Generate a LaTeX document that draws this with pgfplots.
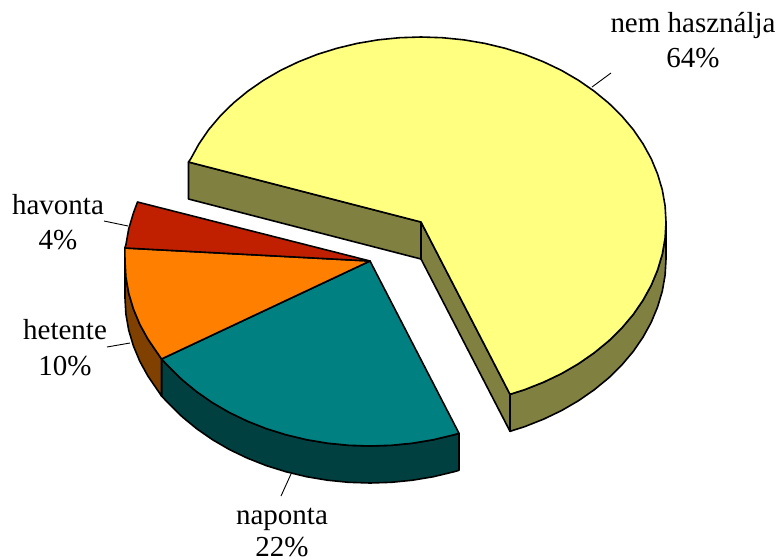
\documentclass[border=0pt]{standalone}
\usepackage{fontspec}
\setmainfont{Liberation Serif}
\usepackage{pgfplots}
\pgfplotsset{compat=1.18}
\definecolor{yellowtop}{HTML}{FFFF80}
\definecolor{yellowside}{HTML}{808040}
\definecolor{tealtop}{HTML}{008080}
\definecolor{tealside}{HTML}{004040}
\definecolor{orangetop}{HTML}{FF8000}
\definecolor{orangeside}{HTML}{804000}
\definecolor{redtop}{HTML}{C02000}
\tikzset{
  face/.style={draw=black, line width=1.6bp, line join=round},
  leader/.style={draw=black, line width=0.9bp},
  lab/.style={anchor=base, inner sep=0pt, font=\fontsize{29.1}{33}\selectfont},
}
\begin{document}
\begin{tikzpicture}
\begin{axis}[
  hide axis, scale only axis,
  width=781bp, height=560bp,
  xmin=0, xmax=781, ymin=0, ymax=560, y dir=reverse,
  clip=false,
]
% nem használja: outer wall and the two cut faces
\addplot[face, fill=yellowside] coordinates {
 (666,222)(665.1,238.1)(662.3,254.1)(657.6,269.9)(651.2,285.3)(643,300.2)(633.2,314.5)
 (621.7,328.1)(608.7,340.9)(594.2,352.8)(578.5,363.7)(561.5,373.6)(543.5,382.2)(524.5,389.7)(510,394.3)
 (510,431.3)(524.5,426.7)(543.5,419.2)(561.5,410.6)(578.5,400.7)(594.2,389.8)(608.7,377.9)(621.7,365.1)
 (633.2,351.5)(643,337.2)(651.2,322.3)(657.6,306.9)(662.3,291.1)(665.1,275.1)(666,259)
} -- cycle;
\addplot[face, fill=yellowside] coordinates {(188.5,162)(421,222)(421,259)(188.5,199)} -- cycle;
\addplot[face, fill=yellowside] coordinates {(421,222)(510,394.3)(510,431.3)(421,259)} -- cycle;
% nem használja: top face
\addplot[face, fill=yellowtop] coordinates {
 (421,222)(188.5,162)(190.8,158.7)(199,143.8)(208.8,129.5)(220.3,115.9)(233.3,103.1)(247.8,91.2)
 (263.5,80.3)(280.5,70.4)(298.5,61.8)(317.5,54.3)(337.2,48.2)(357.6,43.3)(378.5,39.8)(399.6,37.7)
 (421,37)(442.4,37.7)(463.5,39.8)(484.4,43.3)(504.8,48.2)(524.5,54.3)(543.5,61.8)(561.5,70.4)
 (578.5,80.3)(594.2,91.2)(608.7,103.1)(621.7,115.9)(633.2,129.5)(643,143.8)(651.2,158.7)(657.6,174.1)
 (662.3,189.9)(665.1,205.9)(666,222)(665.1,238.1)(662.3,254.1)(657.6,269.9)(651.2,285.3)(643,300.2)
 (633.2,314.5)(621.7,328.1)(608.7,340.9)(594.2,352.8)(578.5,363.7)(561.5,373.6)(543.5,382.2)(524.5,389.7)(510,394.3)
} -- cycle;
% naponta: outer wall
\addplot[face, fill=tealside] coordinates {
 (459,433.3)(453.8,434.8)(433.4,439.7)(412.5,443.2)(391.4,445.3)(370,446)(348.6,445.3)(327.5,443.2)
 (306.6,439.7)(286.2,434.8)(266.5,428.7)(247.5,421.2)(229.5,412.6)(212.5,402.7)(196.8,391.8)(182.3,379.9)
 (169.3,367.1)(161.5,359)
 (161.5,396)(169.3,404.1)(182.3,416.9)(196.8,428.8)(212.5,439.7)(229.5,449.6)(247.5,458.2)(266.5,465.7)
 (286.2,471.8)(306.6,476.7)(327.5,480.2)(348.6,482.3)(370,483)(391.4,482.3)(412.5,480.2)(433.4,476.7)
 (453.8,471.8)(459,470.3)
} -- cycle;
% hetente: outer wall
\addplot[face, fill=orangeside] coordinates {
 (161.5,359)(157.8,353.5)(148,339.2)(139.8,324.3)(133.4,308.9)(128.7,293.1)(125.9,277.1)(125,261)
 (125,298)(125.9,314.1)(128.7,330.1)(133.4,345.9)(139.8,361.3)(148,376.2)(157.8,390.5)(161.5,396)
} -- cycle;
% naponta: top face
\addplot[face, fill=tealtop] coordinates {
 (370,261)(459,433.3)(453.8,434.8)(433.4,439.7)(412.5,443.2)(391.4,445.3)(370,446)(348.6,445.3)(327.5,443.2)
 (306.6,439.7)(286.2,434.8)(266.5,428.7)(247.5,421.2)(229.5,412.6)(212.5,402.7)(196.8,391.8)(182.3,379.9)
 (169.3,367.1)(161.5,359)
} -- cycle;
% hetente: top face
\addplot[face, fill=orangetop] coordinates {
 (370,261)(161.5,359)(157.8,353.5)(148,339.2)(139.8,324.3)(133.4,308.9)(128.7,293.1)(125.9,277.1)(125,261)(124.8,248)
} -- cycle;
% havonta: top face
\addplot[face, fill=redtop] coordinates {
 (370,261)(124.8,248)(125.9,244.9)(128.7,228.9)(133.4,213.1)(137.5,202)
} -- cycle;
% leader lines
\addplot[leader] coordinates {(592,87)(611,73)};
\addplot[leader] coordinates {(104,221)(128,226)};
\addplot[leader] coordinates {(107,347)(130,343)};
\addplot[leader] coordinates {(281,496)(291,474)};
% labels
\node[lab] at (axis cs:693,32) {nem használja};
\node[lab] at (axis cs:693,67) {64\%};
\node[lab] at (axis cs:58,214) {havonta};
\node[lab] at (axis cs:58,249) {4\%};
\node[lab] at (axis cs:65,339) {hetente};
\node[lab] at (axis cs:65,375) {10\%};
\node[lab] at (axis cs:282,524) {naponta};
\node[lab] at (axis cs:282,556) {22\%};
\end{axis}
% page frame: the full plotting rectangle, whatever the hidden axis reports
\pgfresetboundingbox
\path[use as bounding box] (0,0) rectangle (781bp,560bp);
\end{tikzpicture}
\end{document}
